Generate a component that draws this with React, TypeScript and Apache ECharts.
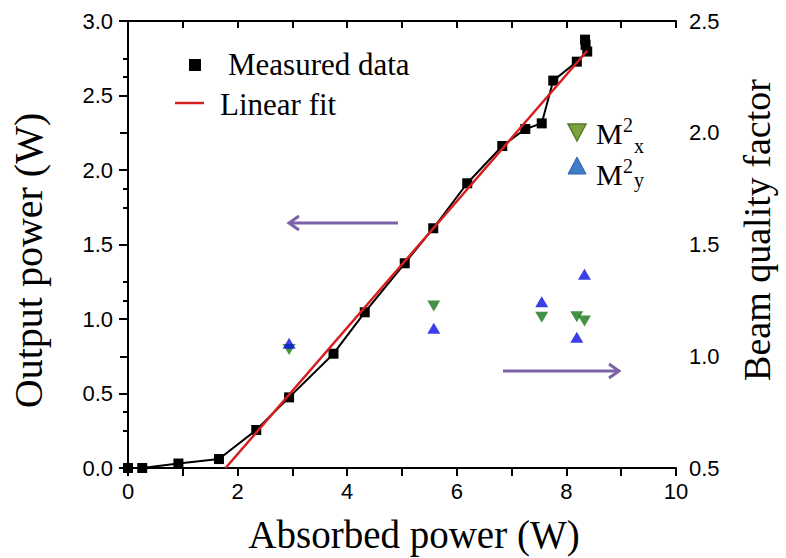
import React, { useEffect, useRef } from "react";
import * as echarts from "echarts";

// Measured output power vs absorbed power
const measuredX = [0, 0.26, 0.92, 1.66, 2.34, 2.94, 3.75, 4.32, 5.05, 5.57, 6.19, 6.83, 7.25, 7.55, 7.76, 8.19, 8.38, 8.35, 8.34];
const measuredY = [0.0, 0.0, 0.03, 0.06, 0.255, 0.474, 0.767, 1.045, 1.374, 1.609, 1.911, 2.161, 2.275, 2.313, 2.6, 2.727, 2.795, 2.84, 2.875];

// Linear fit end points
const fitX = [1.78, 8.38];
const fitY = [0.0, 2.8];

// Beam quality factors
const m2X = [2.94, 5.58, 7.55, 8.19, 8.33];
const m2xValues = [1.03, 1.225, 1.174, 1.177, 1.158];
const m2yValues = [1.058, 1.125, 1.244, 1.085, 1.367];

const SERIF = '"Liberation Serif", "Times New Roman", Times, serif';
const SANS = '"Liberation Sans", Arial, Helvetica, sans-serif';
const ARROW = "#7b62a8";

export default function App() {
  const ref = useRef<HTMLDivElement>(null);

  useEffect(() => {
    document.body.style.margin = "0";
    if (!ref.current) return;
    const chart = echarts.init(ref.current, undefined, { renderer: "svg" });

    const measured = measuredX.map((x, i) => [x, measuredY[i]]);
    const fit = fitX.map((x, i) => [x, fitY[i]]);
    const m2x = m2X.map((x, i) => [x, m2xValues[i]]);
    const m2y = m2X.map((x, i) => [x, m2yValues[i]]);

    const tickLabel = { color: "#000", fontFamily: SANS, fontSize: 22 };
    const axisLine = { show: true, lineStyle: { color: "#000", width: 2 } };

    chart.setOption({
      animation: false,
      backgroundColor: "#fff",
      grid: { left: 128, right: 110, top: 21, bottom: 90, containLabel: false, outerBoundsMode: "none" },
      xAxis: [
        {
          type: "value",
          min: 0,
          max: 10,
          interval: 2,
          position: "bottom",
          axisLine,
          axisTick: { show: true, inside: false, length: 8, lineStyle: { color: "#000", width: 2 } },
          minorTick: { show: true, splitNumber: 2, length: 8, lineStyle: { color: "#000", width: 2 } },
          splitLine: { show: false },
          axisLabel: { ...tickLabel, margin: 12 },
          name: "Absorbed power (W)",
          nameLocation: "middle",
          nameGap: 47,
          nameTextStyle: { color: "#000", fontFamily: SERIF, fontSize: 39, padding: [0, 0, 0, 24] },
        },
        {
          type: "value",
          min: 0,
          max: 10,
          interval: 1,
          position: "top",
          axisLine,
          axisTick: { show: true, inside: true, length: 7, lineStyle: { color: "#000", width: 2 } },
          axisLabel: { show: false },
          splitLine: { show: false },
        },
      ],
      yAxis: [
        {
          type: "value",
          min: 0,
          max: 3,
          interval: 0.5,
          position: "left",
          axisLine,
          axisTick: { show: true, inside: false, length: 9, lineStyle: { color: "#000", width: 2 } },
          minorTick: { show: true, splitNumber: 2, length: 5, lineStyle: { color: "#000", width: 2 } },
          splitLine: { show: false },
          axisLabel: { ...tickLabel, margin: 15, formatter: (v: number) => v.toFixed(1) },
          name: "Output power (W)",
          nameLocation: "middle",
          nameGap: 80,
          nameTextStyle: { color: "#000", fontFamily: SERIF, fontSize: 40, padding: [0, 32, 0, 0] },
        },
        {
          type: "value",
          min: 0.5,
          max: 2.5,
          interval: 0.5,
          position: "right",
          axisLine,
          axisTick: { show: true, inside: true, length: 8, lineStyle: { color: "#000", width: 2 } },
          minorTick: { show: true, splitNumber: 2, length: 5, lineStyle: { color: "#000", width: 2 } },
          splitLine: { show: false },
          axisLabel: { ...tickLabel, margin: 13, formatter: (v: number) => v.toFixed(1) },
          name: "Beam quality factor",
          nameLocation: "middle",
          nameGap: 62,
          nameTextStyle: { color: "#000", fontFamily: SERIF, fontSize: 38, padding: [0, 0, 0, 29] },
        },
      ],
      series: [
        {
          name: "Linear fit",
          type: "line",
          data: fit,
          xAxisIndex: 0,
          yAxisIndex: 0,
          showSymbol: false,
          symbol: "none",
          lineStyle: { color: "#d42020", width: 2.5 },
          z: 3,
          clip: false,
        },
        {
          name: "Measured data",
          type: "line",
          data: measured,
          xAxisIndex: 0,
          yAxisIndex: 0,
          symbol: "rect",
          symbolSize: 10,
          itemStyle: { color: "#000" },
          lineStyle: { color: "#000", width: 2 },
          z: 2,
          clip: false,
        },
        {
          name: "M2x",
          type: "scatter",
          data: m2x,
          xAxisIndex: 0,
          yAxisIndex: 1,
          symbol: "triangle",
          symbolRotate: 180,
          symbolSize: [13, 11],
          itemStyle: { color: "#177517" },
          z: 4,
        },
        {
          name: "M2y",
          type: "scatter",
          data: m2y,
          xAxisIndex: 0,
          yAxisIndex: 1,
          symbol: "triangle",
          symbolSize: [13, 11],
          itemStyle: { color: "#0a10e0" },
          z: 5,
        },
      ],
      graphic: [
        // Legend: measured / fit
        { type: "rect", shape: { x: 189, y: 59, width: 12, height: 12 }, style: { fill: "#000" } },
        { type: "text", x: 228, y: 64, style: { text: "Measured data", font: `31px ${SERIF}`, fill: "#000", verticalAlign: "middle" } },
        { type: "line", shape: { x1: 175, y1: 103, x2: 204, y2: 103 }, style: { stroke: "#d42020", lineWidth: 2.5 } },
        { type: "text", x: 220, y: 104, style: { text: "Linear fit", font: `31px ${SERIF}`, fill: "#000", verticalAlign: "middle" } },
        // Legend: M2
        { type: "polygon", shape: { points: [[568, 124], [586, 124], [577, 141]] }, style: { fill: "#7aa23e", stroke: "#557a2a", lineWidth: 1.5 } },
        { type: "text", x: 596, y: 133, style: { text: "M", font: `30px ${SERIF}`, fill: "#000", verticalAlign: "middle" } },
        { type: "text", x: 623, y: 125, style: { text: "2", font: `20px ${SERIF}`, fill: "#000", verticalAlign: "middle" } },
        { type: "text", x: 634, y: 146, style: { text: "x", font: `20px ${SERIF}`, fill: "#000", verticalAlign: "middle" } },
        { type: "polygon", shape: { points: [[577, 157], [586, 174], [568, 174]] }, style: { fill: "#3f7cc8", stroke: "#2f62a8", lineWidth: 1 } },
        { type: "text", x: 596, y: 174, style: { text: "M", font: `30px ${SERIF}`, fill: "#000", verticalAlign: "middle" } },
        { type: "text", x: 623, y: 166, style: { text: "2", font: `20px ${SERIF}`, fill: "#000", verticalAlign: "middle" } },
        { type: "text", x: 634, y: 180, style: { text: "y", font: `20px ${SERIF}`, fill: "#000", verticalAlign: "middle" } },
        // Arrows
        { type: "line", shape: { x1: 289, y1: 223, x2: 398, y2: 223 }, style: { stroke: ARROW, lineWidth: 3 } },
        { type: "polyline", shape: { points: [[299, 216], [289, 223], [299, 230]] }, style: { stroke: ARROW, lineWidth: 3, fill: null } },
        { type: "line", shape: { x1: 503, y1: 371, x2: 619, y2: 371 }, style: { stroke: ARROW, lineWidth: 3 } },
        { type: "polyline", shape: { points: [[609, 364], [619, 371], [609, 378]] }, style: { stroke: ARROW, lineWidth: 3, fill: null } },
      ],
    });

    return () => chart.dispose();
  }, []);

  return <div ref={ref} style={{ width: 786, height: 558 }} />;
}
